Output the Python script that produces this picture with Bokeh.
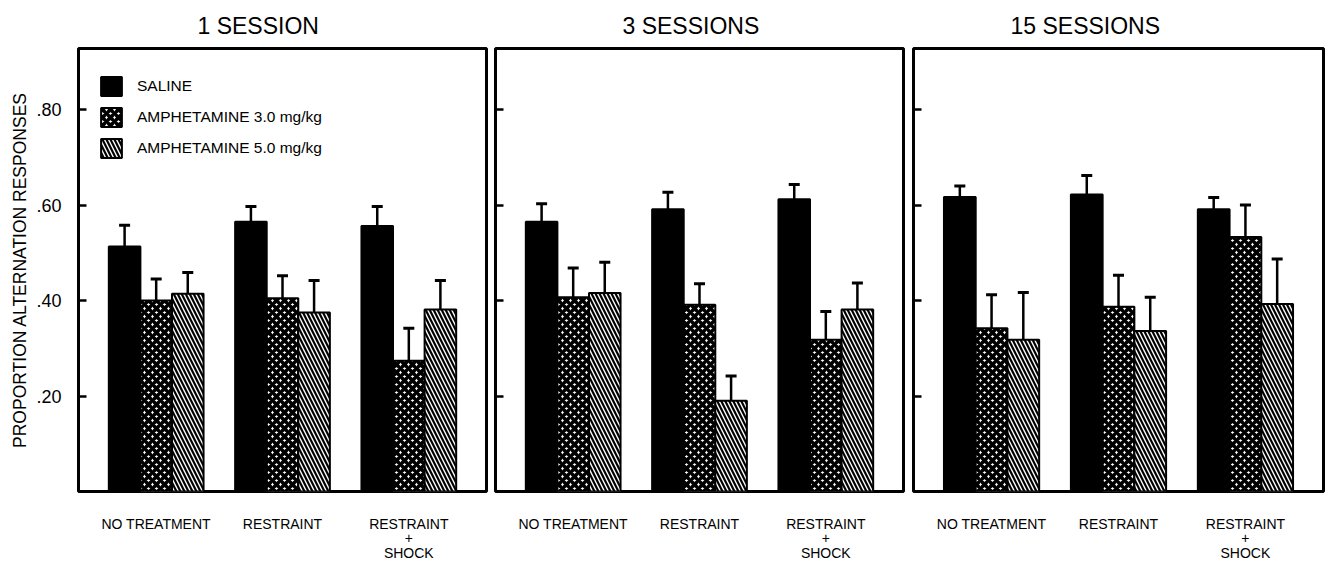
from bokeh.plotting import figure
from bokeh.layouts import row
from bokeh.models import (FixedTicker, Range1d, Whisker, TeeHead, ColumnDataSource,
                          Legend, LegendItem)
from bokeh.transform import dodge
from bokeh.embed import file_html
from bokeh.resources import INLINE

# ---------------- data ----------------
sessions = ["1 SESSION", "3 SESSIONS", "15 SESSIONS"]
conditions = ["NO TREATMENT", "RESTRAINT", "RESTRAINT\n+\nSHOCK"]
series = ["SALINE", "AMPHETAMINE 3.0 mg/kg", "AMPHETAMINE 5.0 mg/kg"]
y_ticks = [0.2, 0.4, 0.6, 0.8]
y_tick_labels = [".20", ".40", ".60", ".80"]

# 1 session
saline_1 = [0.513, 0.565, 0.556]
saline_1_err = [0.045, 0.032, 0.041]
amph3_1 = [0.400, 0.405, 0.274]
amph3_1_err = [0.045, 0.047, 0.068]
amph5_1 = [0.414, 0.375, 0.381]
amph5_1_err = [0.045, 0.067, 0.061]

# 3 sessions
saline_3 = [0.565, 0.591, 0.612]
saline_3_err = [0.038, 0.036, 0.031]
amph3_3 = [0.407, 0.391, 0.318]
amph3_3_err = [0.061, 0.044, 0.059]
amph5_3 = [0.416, 0.190, 0.381]
amph5_3_err = [0.064, 0.052, 0.056]

# 15 sessions
saline_15 = [0.617, 0.622, 0.591]
saline_15_err = [0.023, 0.040, 0.025]
amph3_15 = [0.342, 0.387, 0.533]
amph3_15_err = [0.070, 0.066, 0.067]
amph5_15 = [0.318, 0.336, 0.393]
amph5_15_err = [0.099, 0.071, 0.094]

FONT = "Liberation Sans"
BAR_W = 0.25
FIG_H = 564


def make_panel(title, sal, sal_e, a3, a3_e, a5, a5_e, width, bl, br, title_off, first):
    p = figure(width=width, height=FIG_H,
               x_range=Range1d(-0.615, 2.615), y_range=Range1d(0, 0.928),
               output_backend="svg", toolbar_location=None,
               min_border_left=bl, min_border_right=br,
               min_border_top=48, min_border_bottom=FIG_H - 492)
    p.background_fill_color = "white"
    p.border_fill_color = "white"
    p.xgrid.visible = False
    p.ygrid.visible = False
    p.outline_line_color = "black"
    p.outline_line_width = 3

    p.title.text = title
    p.title.text_font = FONT
    p.title.text_font_size = "23px"
    p.title.text_font_style = "normal"
    p.title.text_color = "black"
    p.title.align = "left"
    p.title.offset = title_off
    p.title.standoff = 20

    xs = list(range(len(conditions)))
    specs = [
        (series[0], sal, sal_e, -BAR_W, dict(fill_color="black")),
        (series[1], a3, a3_e, 0.0, dict(fill_color="white", hatch_pattern="x",
                                        hatch_color="black", hatch_scale=8,
                                        hatch_weight=3.6)),
        (series[2], a5, a5_e, BAR_W, dict(fill_color="white", hatch_pattern="\\",
                                          hatch_color="black", hatch_scale=8,
                                          hatch_weight=2.2)),
    ]
    items = []
    for name, vals, errs, off, style in specs:
        src = ColumnDataSource(dict(x=xs, y=vals,
                                    top=[v + e for v, e in zip(vals, errs)]))
        r = p.vbar(x=dodge("x", off, range=p.x_range), top="y", bottom=0,
                   width=BAR_W, source=src, line_color="black", line_width=2,
                   **style)
        items.append(LegendItem(label=name, renderers=[r]))
        w = Whisker(base=dodge("x", off, range=p.x_range), lower="y", upper="top",
                    source=src, line_color="black", line_width=2.5,
                    upper_head=TeeHead(size=11, line_width=3, line_color="black"),
                    lower_head=None)
        p.add_layout(w)

    # x axis
    xa = p.xaxis[0]
    xa.ticker = FixedTicker(ticks=xs)
    xa.major_label_overrides = {i: c for i, c in enumerate(conditions)}
    xa.major_label_text_font = FONT
    xa.major_label_text_font_size = "14px"
    xa.major_label_text_color = "black"
    xa.major_label_text_line_height = 0.93
    xa.major_label_standoff = 18
    xa.major_tick_line_color = None
    xa.minor_tick_line_color = None
    xa.axis_line_color = None

    # y axis
    ya = p.yaxis[0]
    ya.ticker = FixedTicker(ticks=y_ticks)
    ya.major_tick_in = 8
    ya.major_tick_out = 0
    ya.major_tick_line_width = 2.5
    ya.major_tick_line_color = "black"
    ya.minor_tick_line_color = None
    ya.axis_line_color = None
    if first:
        ya.major_label_overrides = {t: l for t, l in zip(y_ticks, y_tick_labels)}
        ya.major_label_text_font = FONT
        ya.major_label_text_font_size = "18px"
        ya.major_label_text_color = "black"
        ya.major_label_standoff = 17
        ya.axis_label = "PROPORTION ALTERNATION RESPONSES"
        ya.axis_label_text_font = FONT
        ya.axis_label_text_font_size = "17.5px"
        ya.axis_label_text_font_style = "normal"
        ya.axis_label_text_color = "black"
        ya.axis_label_standoff = 3
        legend = Legend(items=items, location=(20, 331))
        legend.background_fill_alpha = 0
        legend.border_line_color = None
        legend.padding = 0
        legend.margin = 0
        legend.spacing = 7
        legend.glyph_width = 26
        legend.glyph_height = 24
        legend.label_standoff = 13
        legend.label_text_font = FONT
        legend.label_text_font_size = "15.5px"
        legend.label_text_color = "black"
        p.add_layout(legend)
    else:
        ya.major_label_text_font_size = "1px"
        ya.major_label_text_color = None
        ya.major_label_standoff = 0
    return p


p1 = make_panel(sessions[0], saline_1, saline_1_err, amph3_1, amph3_1_err,
                amph5_1, amph5_1_err, width=490, bl=78, br=4, title_off=119, first=True)
p2 = make_panel(sessions[1], saline_3, saline_3_err, amph3_3, amph3_3_err,
                amph5_3, amph5_3_err, width=418, bl=5, br=5, title_off=127, first=False)
p3 = make_panel(sessions[2], saline_15, saline_15_err, amph3_15, amph3_15_err,
                amph5_15, amph5_15_err, width=417, bl=5, br=2, title_off=97, first=False)

layout = row(p1, p2, p3)
open("out.html", "w").write(file_html(layout, INLINE))
